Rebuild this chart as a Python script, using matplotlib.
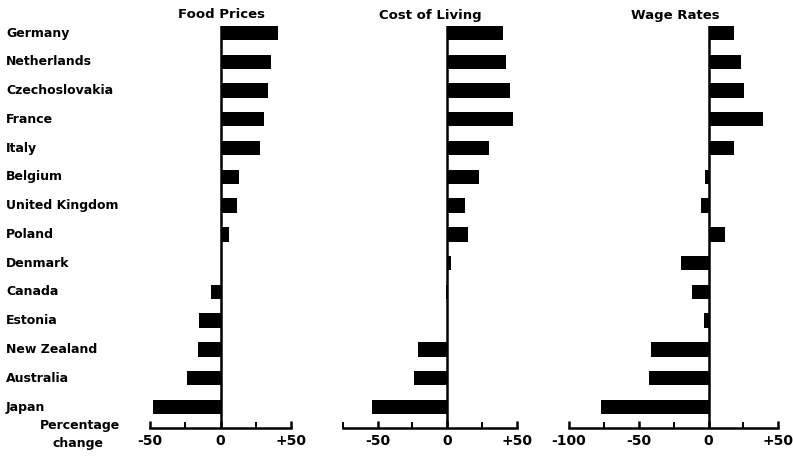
import matplotlib
matplotlib.use("Agg")
import matplotlib.pyplot as plt

countries = ["Germany", "Netherlands", "Czechoslovakia", "France", "Italy", "Belgium",
             "United Kingdom", "Poland", "Denmark", "Canada", "Estonia", "New Zealand",
             "Australia", "Japan"]
food_prices = [41, 36, 34, 31, 28, 13, 12, 6, 0.3, -7, -15, -16, -24, -48]
cost_of_living = [40, 42, 45, 47, 30, 23, 13, 15, 3, -1, 0.5, -21, -24, -54]
wage_rates = [18, 23, 25.5, 39, 18, -2.5, -5.5, 12, -19.5, -12, -3.5, -41, -43, -77]

panel_titles = ["Food Prices", "Cost of Living", "Wage Rates"]
panel_values = [food_prices, cost_of_living, wage_rates]
panel_xlims = [(-50, 50), (-75, 50), (-100, 50)]
panel_major = [[-50, 0, 50], [-50, 0, 50], [-100, -50, 0, 50]]
panel_major_labels = [["-50", "0", "+50"], ["-50", "0", "+50"], ["-100", "-50", "0", "+50"]]
panel_minor = [[-25, 25], [-75, -25, 25], [-75, -25, 25]]

W, H = 793, 458
fig = plt.figure(figsize=(W / 100, H / 100), dpi=100)
plt.rcParams['font.family'] = ['DejaVu Sans']

# pixel extents of each panel: (left px, right px)
panel_px = [(150, 291), (342.7, 516.7), (569, 778.3)]
title_px = [222, 430, 675]
top_px, bot_px = 25.8, 428

ypos = list(range(len(countries)))
for i in range(3):
    l, r = panel_px[i]
    ax = fig.add_axes([l / W, 1 - bot_px / H, (r - l) / W, (bot_px - top_px) / H])
    ax.barh(ypos, panel_values[i], height=0.5, color="black")
    ax.set_xlim(*panel_xlims[i])
    ax.set_ylim(13.73, -0.25)
    ax.axvline(0, color="black", lw=1.8)
    for s in ["top", "right", "left"]:
        ax.spines[s].set_visible(False)
    ax.spines["bottom"].set_linewidth(1.8)
    ax.set_yticks([])
    ax.set_xticks(panel_major[i])
    ax.set_xticklabels(panel_major_labels[i], fontsize=10, fontweight="bold")
    ax.set_xticks(panel_minor[i], minor=True)
    ax.tick_params(axis="x", which="major", direction="in", length=5, width=1.8, pad=4)
    ax.tick_params(axis="x", which="minor", direction="in", length=4, width=1.4)
    ax.patch.set_alpha(0)
    fig.text(title_px[i] / W, 1 - 15 / H, panel_titles[i], ha="center", va="center",
             fontsize=9.5, fontweight="bold")

# country labels
for k, c in enumerate(countries):
    y_px = 33 + k * (407 - 33) / 13
    fig.text(6 / W, 1 - y_px / H, c, ha="left", va="center", fontsize=9, fontweight="bold")

fig.text(80 / W, 1 - 425 / H, "Percentage", ha="center", va="center", fontsize=9, fontweight="bold")
fig.text(78 / W, 1 - 443 / H, "change", ha="center", va="center", fontsize=9, fontweight="bold")

fig.savefig("out.png", dpi=100, facecolor="white")
